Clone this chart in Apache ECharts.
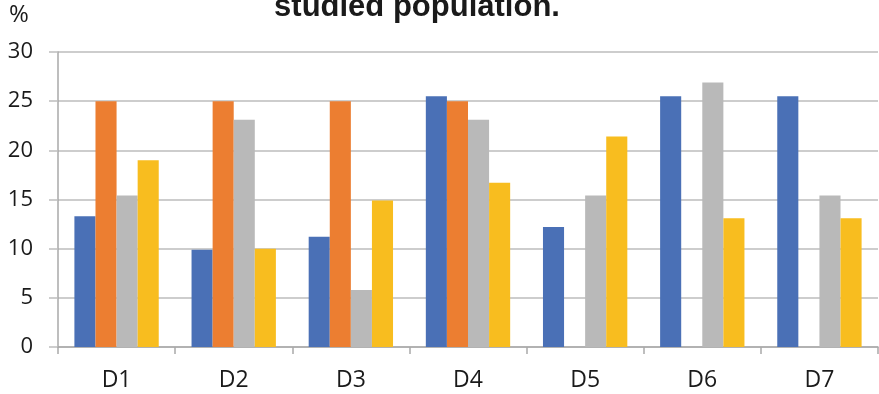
<!DOCTYPE html>
<html>
<head>
<meta charset="utf-8">
<script src="https://cdn.jsdelivr.net/npm/echarts@6/dist/echarts.min.js"></script>
<style>
  html, body { margin: 0; padding: 0; background: #fff; }
  #chart { width: 879px; height: 394px; }
</style>
</head>
<body>
<div id="chart"></div>
<script>
// Share (%) of each group per domain D1–D7
const categories = ['D1', 'D2', 'D3', 'D4', 'D5', 'D6', 'D7'];
const seriesBlue   = [13.3, 9.9, 11.2, 25.5, 12.2, 25.5, 25.5];
const seriesOrange = [25, 25, 25, 25, 0, 0, 0];
const seriesGray   = [15.4, 23.1, 5.8, 23.1, 15.4, 26.9, 15.4];
const seriesYellow = [19.0, 10.0, 14.9, 16.7, 21.4, 13.1, 13.1];
const yTicks = { min: 0, max: 30, step: 5 };

const colors = ['#4a70b6', '#ec7e31', '#b9b9b9', '#f8bd1f'];
const font = '"Open Sans", "Noto Sans", sans-serif';

function bar(name, data, color) {
  return {
    name, type: 'bar', data,
    barGap: '0%', barCategoryGap: '28%',
    itemStyle: { color },
    silent: true
  };
}

const chart = echarts.init(document.getElementById('chart'), null, { renderer: 'canvas' });
chart.setOption({
  animation: false,
  title: {
    text: 'studied population.',
    left: 412, top: -13, textAlign: 'center',
    textStyle: { fontFamily: 'Liberation Sans, Arial, sans-serif', fontWeight: 'bold', fontSize: 31, color: '#1a1a1a' }
  },
  graphic: [{
    type: 'text', left: 9, top: 3,
    style: { text: '%', font: '24px ' + font, fill: '#1a1a1a' }
  }],
  grid: { left: 58, right: 1, top: 52, bottom: 47, containLabel: false },
  xAxis: {
    type: 'category', data: categories,
    axisLine: { lineStyle: { color: '#a9a9a9', width: 1.5 } },
    axisTick: { show: true, length: 7, lineStyle: { color: '#a9a9a9', width: 1.5 } },
    axisLabel: { margin: 22, fontFamily: font, fontSize: 23, color: '#1a1a1a' }
  },
  yAxis: {
    type: 'value', min: yTicks.min, max: yTicks.max, interval: yTicks.step,
    axisLine: { show: true, lineStyle: { color: '#a9a9a9', width: 1.5 } },
    axisTick: { show: true, length: 9, lineStyle: { color: '#bdbdbd', width: 1.5 } },
    splitLine: { lineStyle: { color: '#bdbdbd', width: 1.5 } },
    axisLabel: { margin: 25, fontFamily: font, fontSize: 22, color: '#1a1a1a' }
  },
  series: [
    bar('Blue', seriesBlue, colors[0]),
    bar('Orange', seriesOrange, colors[1]),
    bar('Gray', seriesGray, colors[2]),
    bar('Yellow', seriesYellow, colors[3])
  ]
});
</script>
</body>
</html>
